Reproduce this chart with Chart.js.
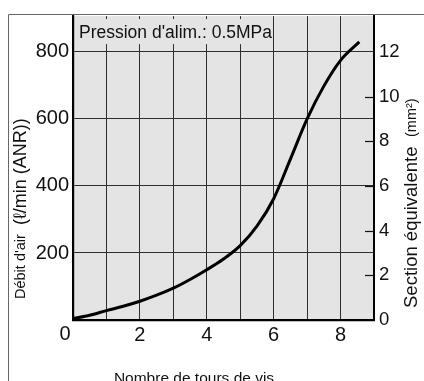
<!DOCTYPE html>
<html>
<head>
<meta charset="utf-8">
<script src="https://cdn.jsdelivr.net/npm/chart.js@4/dist/chart.umd.min.js"></script>
<style>
  html, body { margin: 0; padding: 0; background: #ffffff; }
  #wrap { position: relative; width: 424px; height: 381px; overflow: hidden; }
  canvas { display: block; }
</style>
</head>
<body>
<div id="wrap"><canvas id="c" width="424" height="381"></canvas></div>
<script>
// ---- data ----
const turns = [0, 0.5, 1, 1.5, 2, 2.5, 3, 3.5, 4, 4.5, 5, 5.5, 6, 6.5, 7, 7.5, 8, 8.56];
const flow  = [4, 14, 28, 41, 56, 74, 95, 121, 150, 182, 222, 280, 362, 480, 600, 698, 775, 830];
const xGridTicks = [0, 1, 2, 3, 4, 5, 6, 7, 8, 9];
const xLabelTicks = [2, 4, 6, 8];
const yLeftTicks = [0, 200, 400, 600, 800];
const yLeftLabels = [200, 400, 600, 800];
const yRightTicks = [0, 2, 4, 6, 8, 10, 12];
const yRightInnerTicks = [2, 4, 6, 8, 10];
const xMin = 0, xMax = 9;
const yMin = 0, yMax = 907;
const flowPerSection = 800 / 12;

const annotationText = "Pression d'alim.: 0.5MPa";
const leftTitleMain = "Débit d'air";
const leftTitleUnit = "(ℓ/min (ANR))";
const rightTitleMain = "Section équivalente";
const rightTitleUnit = "(mm²)";
const bottomTitle = "Nombre de tours de vis";
const originLabel = "0";

const FONT = "'Liberation Sans', Arial, Helvetica, sans-serif";
const PLOT_BG = '#e4e4e4';

function rotatedParts(ctx, cx, startY, parts) {
  ctx.save();
  ctx.translate(cx, startY);
  ctx.rotate(-Math.PI / 2);
  ctx.textAlign = 'left';
  ctx.textBaseline = 'middle';
  parts.forEach(p => {
    ctx.font = p.size + 'px ' + FONT;
    ctx.fillText(p.text, p.offset, 0);
  });
  ctx.restore();
}

const decor = {
  id: 'decor',
  beforeDraw(chart) {
    const ctx = chart.ctx, a = chart.chartArea;
    ctx.save();
    ctx.fillStyle = PLOT_BG;
    ctx.fillRect(a.left, a.top, a.right - a.left, a.bottom - a.top);
    ctx.strokeStyle = '#666';
    ctx.lineWidth = 1;
    ctx.beginPath();
    ctx.moveTo(8.5, 381);
    ctx.lineTo(8.5, 14.5);
    ctx.lineTo(424, 14.5);
    ctx.stroke();
    ctx.restore();
  },
  beforeDatasetsDraw(chart) {
    const ctx = chart.ctx, a = chart.chartArea;
    const x = chart.scales.x;
    ctx.save();
    ctx.font = '17.5px ' + FONT;
    const bx = a.left + 3;
    const right = x.getPixelForValue(6) - 1;
    ctx.fillStyle = PLOT_BG;
    ctx.fillRect(bx, a.top + 3, right - bx, 25);
    ctx.fillStyle = '#111';
    ctx.textAlign = 'left';
    ctx.textBaseline = 'alphabetic';
    ctx.fillText(annotationText, a.left + 6, a.top + 22);
    ctx.restore();
  },
  afterDraw(chart) {
    const ctx = chart.ctx, a = chart.chartArea;
    const y2 = chart.scales.y2, x = chart.scales.x;
    ctx.save();
    ctx.strokeStyle = '#111';
    ctx.lineWidth = 1.2;
    yRightInnerTicks.forEach(v => {
      const py = Math.round(y2.getPixelForValue(v)) + 0.5;
      ctx.beginPath();
      ctx.moveTo(a.right - 9, py);
      ctx.lineTo(a.right, py);
      ctx.stroke();
    });
    ctx.fillStyle = '#111';
    ctx.font = '20px ' + FONT;
    ctx.textAlign = 'center';
    ctx.textBaseline = 'middle';
    ctx.fillText(originLabel, x.getPixelForValue(0) - 8, a.bottom + 14);
    rotatedParts(ctx, 21, 299, [
      { text: leftTitleMain, size: 14.5, offset: 0 },
      { text: leftTitleUnit, size: 18, offset: 74 }
    ]);
    rotatedParts(ctx, 412, 308, [
      { text: rightTitleMain, size: 18.5, offset: 0 },
      { text: rightTitleUnit, size: 14.5, offset: 171 }
    ]);
    ctx.font = '15.5px ' + FONT;
    ctx.textAlign = 'center';
    ctx.textBaseline = 'alphabetic';
    ctx.fillText(bottomTitle, 194, 383);
    ctx.restore();
  }
};

new Chart(document.getElementById('c'), {
  type: 'line',
  data: {
    datasets: [{
      data: turns.map((t, i) => ({ x: t, y: flow[i] })),
      borderColor: '#000',
      borderWidth: 3,
      pointRadius: 0,
      fill: false,
      cubicInterpolationMode: 'monotone',
      yAxisID: 'y'
    }]
  },
  options: {
    responsive: false,
    animation: false,
    devicePixelRatio: 1,
    layout: { padding: { top: 14, left: 0, right: 0, bottom: 0 } },
    plugins: { legend: { display: false }, tooltip: { enabled: false }, title: { display: false } },
    scales: {
      x: {
        type: 'linear',
        min: xMin, max: xMax,
        afterBuildTicks: s => { s.ticks = xGridTicks.map(v => ({ value: v })); },
        afterFit: s => { s.height = 61; },
        grid: { color: '#2e2e2e', lineWidth: 1, drawTicks: false },
        border: { color: '#000', width: 2.2 },
        ticks: {
          padding: 3,
          autoSkip: false,
          maxRotation: 0,
          color: '#111',
          font: { family: FONT, size: 20 },
          callback: v => xLabelTicks.includes(v) ? String(v) : ''
        }
      },
      y: {
        type: 'linear',
        position: 'left',
        min: yMin, max: yMax,
        afterBuildTicks: s => { s.ticks = yLeftTicks.map(v => ({ value: v })); },
        afterFit: s => { s.width = 73; },
        grid: { color: '#2e2e2e', lineWidth: 1, drawTicks: false },
        border: { color: '#000', width: 2.2 },
        ticks: {
          padding: 4,
          color: '#111',
          font: { family: FONT, size: 20 },
          callback: v => yLeftLabels.includes(v) ? String(v) : ''
        }
      },
      y2: {
        type: 'linear',
        position: 'right',
        min: yMin / flowPerSection, max: yMax / flowPerSection,
        afterBuildTicks: s => { s.ticks = yRightTicks.map(v => ({ value: v })); },
        afterFit: s => { s.width = 50; },
        grid: { drawOnChartArea: false, drawTicks: false },
        border: { color: '#000', width: 2 },
        ticks: {
          padding: 5,
          color: '#111',
          font: { family: FONT, size: 18.5 },
          callback: v => String(v)
        }
      }
    }
  },
  plugins: [decor]
});
</script>
</body>
</html>
